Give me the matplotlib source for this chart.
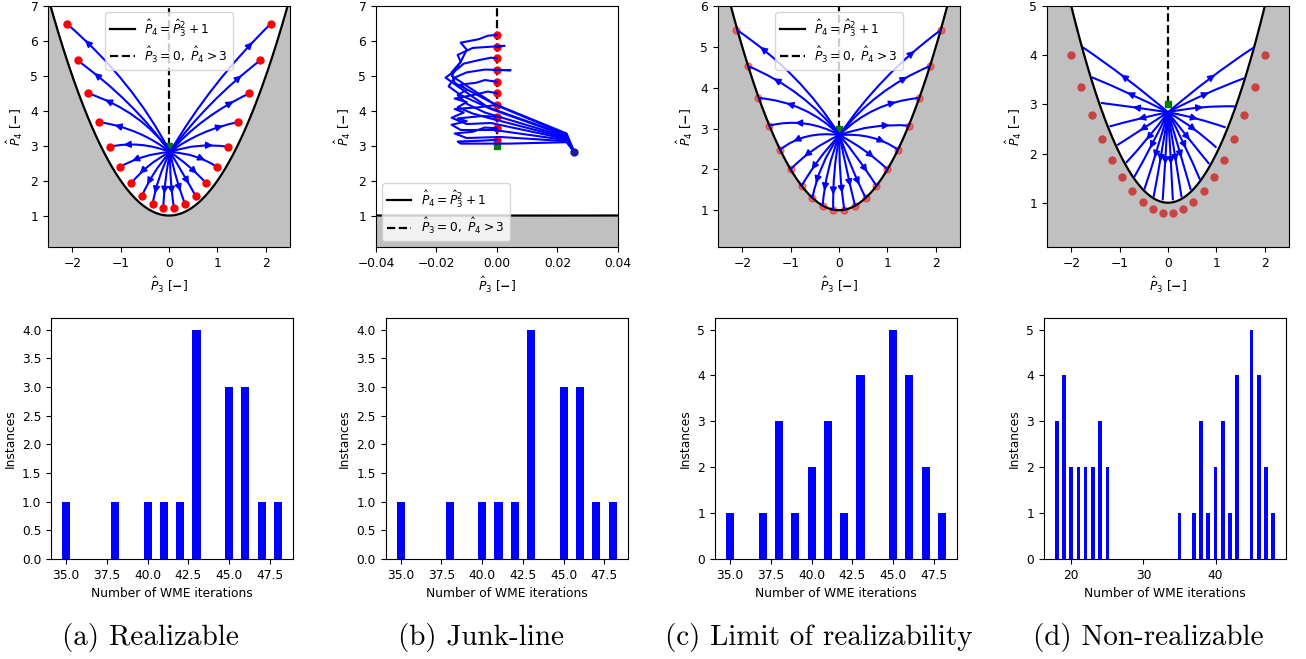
import numpy as np
import matplotlib
matplotlib.use("Agg")
import matplotlib.pyplot as plt
from matplotlib.path import Path
from matplotlib.patches import PathPatch
from matplotlib.ticker import MultipleLocator

# ---- top row: start points (red dots), arrow positions, convergence point ----
a_dot_x = [-2.11, -1.89, -1.67, -1.45, -1.23, -1.01, -0.78, -0.56, -0.34, -0.12,
           0.10, 0.33, 0.55, 0.77, 0.99, 1.21, 1.43, 1.66, 1.88, 2.10]
a_dot_y = [6.49, 5.44, 4.50, 3.68, 2.97, 2.39, 1.92, 1.56, 1.33, 1.22,
           1.22, 1.33, 1.56, 1.92, 2.39, 2.97, 3.68, 4.50, 5.44, 6.49]
a_arr_x = [-1.72, -1.53, -1.30, -1.10, -0.91, -0.74, -0.59, -0.44, -0.29, -0.10,
           0.06, 0.23, 0.40, 0.56, 0.72, 0.88, 1.09, 1.31, 1.48, 1.71]
a_arr_y = [6.00, 5.06, 4.30, 3.58, 3.03, 2.58, 2.22, 1.91, 1.66, 1.65,
           1.65, 1.72, 1.93, 2.22, 2.60, 3.01, 3.56, 4.25, 4.99, 5.94]
a_center = (0.02, 2.82)

c_dot_x = [-2.12, -1.88, -1.67, -1.45, -1.22, -1.00, -0.77, -0.55, -0.34, -0.12,
           0.11, 0.33, 0.55, 0.77, 1.00, 1.22, 1.44, 1.66, 1.88, 2.10]
c_dot_y = [5.42, 4.53, 3.75, 3.07, 2.48, 2.00, 1.60, 1.30, 1.11, 1.01,
           1.01, 1.11, 1.30, 1.60, 2.00, 2.48, 3.07, 3.75, 4.53, 5.41]
c_arr_x = [-1.61, -1.33, -1.06, -0.88, -0.92, -0.70, -0.55, -0.47, -0.30, -0.12,
           0.06, 0.23, 0.41, 0.57, 0.70, 0.92, 1.02, 1.15, 1.39, 1.54]
c_arr_y = [4.98, 4.21, 3.61, 3.14, 2.70, 2.33, 2.02, 1.69, 1.51, 1.41,
           1.45, 1.61, 1.65, 1.96, 2.31, 2.68, 3.08, 3.64, 4.25, 4.88]
c_center = (0.01, 2.84)

d_dot_x = [-2.01, -1.79, -1.58, -1.37, -1.15, -0.95, -0.74, -0.52, -0.32, -0.11,
           0.10, 0.31, 0.52, 0.74, 0.95, 1.15, 1.37, 1.58, 1.79, 2.00]
d_dot_y = [4.00, 3.35, 2.79, 2.29, 1.87, 1.52, 1.23, 1.02, 0.88, 0.80,
           0.80, 0.88, 1.02, 1.23, 1.52, 1.87, 2.29, 2.79, 3.35, 4.00]
d_end_x = [-1.76, -1.57, -1.39, -1.21, -1.05, -0.87, -0.70, -0.49, -0.30, -0.11,
           0.10, 0.28, 0.47, 0.66, 0.85, 1.00, 1.19, 1.38, 1.57, 1.76]
d_end_y = [4.16, 3.55, 3.03, 2.55, 2.17, 1.81, 1.52, 1.27, 1.11, 1.05,
           1.05, 1.11, 1.26, 1.47, 1.79, 2.12, 2.53, 2.96, 3.53, 4.15]
d_arr_x = [-0.95, -0.82, -0.70, -0.59, -0.56, -0.43, -0.36, -0.27, -0.16, -0.06,
           0.06, 0.16, 0.27, 0.36, 0.43, 0.56, 0.59, 0.70, 0.82, 0.95]
d_arr_y = [3.59, 3.23, 2.94, 2.71, 2.48, 2.30, 2.13, 1.94, 1.86, 1.81,
           1.81, 1.86, 1.94, 2.13, 2.30, 2.48, 2.71, 2.94, 3.23, 3.59]
d_center = (0.0, 2.84)

# junk-line trajectories (b): all start at the blue dot, end on the red dots
b_start = (0.0255, 2.82)
b_dot_y = [3.17, 3.50, 3.83, 4.17, 4.50, 4.83, 5.17, 5.50, 5.83, 6.17]
b_paths = [
    [(0.023, 3.10), (0.004, 3.06), (-0.012, 3.06), (-0.013, 3.12), (-0.006, 3.14), (0.0, 3.17)],
    [(0.023, 3.13), (0.001, 3.25), (-0.010, 3.22), (-0.014, 3.35), (-0.008, 3.40), (-0.004, 3.52), (0.0, 3.50)],
    [(0.023, 3.16), (-0.001, 3.45), (-0.012, 3.45), (-0.015, 3.60), (-0.010, 3.70), (-0.013, 3.78), (-0.005, 3.85), (0.0, 3.83)],
    [(0.023, 3.19), (-0.002, 3.65), (-0.010, 3.62), (-0.015, 3.80), (-0.011, 3.95), (-0.014, 4.05), (-0.006, 4.10), (0.0, 4.17)],
    [(0.023, 3.22), (-0.003, 3.80), (-0.008, 3.92), (-0.013, 4.10), (-0.010, 4.25), (-0.014, 4.35), (-0.008, 4.45), (-0.003, 4.55), (0.0, 4.50)],
    [(0.023, 3.25), (-0.004, 3.95), (-0.010, 4.20), (-0.013, 4.45), (-0.010, 4.60), (-0.012, 4.75), (-0.007, 4.80), (-0.004, 4.88), (0.0, 4.83)],
    [(0.023, 3.28), (-0.002, 4.05), (-0.012, 4.45), (-0.016, 4.70), (-0.014, 4.95), (-0.010, 5.10), (-0.004, 5.18), (0.0045, 5.16), (0.0, 5.17)],
    [(0.023, 3.30), (-0.003, 4.10), (-0.013, 4.70), (-0.017, 4.95), (-0.013, 5.20), (-0.011, 5.35), (-0.006, 5.45), (-0.002, 5.52), (0.0, 5.50)],
    [(0.023, 3.32), (0.000, 4.15), (-0.014, 4.80), (-0.015, 5.10), (-0.012, 5.40), (-0.013, 5.60), (-0.008, 5.80), (0.0025, 5.86), (0.0, 5.83)],
    [(0.023, 3.35), (-0.001, 4.20), (-0.015, 5.00), (-0.012, 5.40), (-0.010, 5.75), (-0.012, 5.95), (-0.006, 6.05), (-0.003, 6.15), (0.0, 6.17)],
]

# ---- bottom row: histograms ----
a_iters = [35, 38, 40, 41, 42, 43, 45, 46, 47, 48]
a_counts = [1, 1, 1, 1, 1, 4, 3, 3, 1, 1]
b_iters = [35, 38, 40, 41, 42, 43, 45, 46, 47, 48]
b_counts = [1, 1, 1, 1, 1, 4, 3, 3, 1, 1]
c_iters = [35, 37, 38, 39, 40, 41, 42, 43, 45, 46, 47, 48]
c_counts = [1, 1, 3, 1, 2, 3, 1, 4, 5, 4, 2, 1]
d_iters = [18, 19, 20, 21, 22, 23, 24, 25, 35, 37, 38, 39, 40, 41, 42, 43, 45, 46, 47, 48]
d_counts = [3, 4, 2, 2, 2, 2, 3, 2, 1, 1, 3, 1, 2, 3, 1, 4, 5, 4, 2, 1]

captions = ["(a) Realizable", "(b) Junk-line", "(c) Limit of realizability", "(d) Non-realizable"]

LAB_X = r'$\hat{P}_3$ [$\mathbf{-}$]'
LAB_Y = r'$\hat{P}_4$ [$\mathbf{-}$]'
LEG1 = r'$\hat{P}_4 = \hat{P}_3^2 + 1$'
LEG2 = r'$\hat{P}_3 = 0,\ \hat{P}_4 > 3$'


def realizability(ax, xlo, xhi, ytop):
    xs = np.linspace(xlo, xhi, 400)
    ax.fill_between(xs, 0, xs**2 + 1, color='silver', zorder=0)
    ax.plot(xs, xs**2 + 1, 'k-', lw=1.6, label=LEG1, zorder=2)
    ax.plot([0, 0], [3, ytop], 'k--', lw=1.6, label=LEG2, zorder=2)
    ax.set_xlim(xlo, xhi)
    ax.set_ylim(0.1, ytop)
    ax.set_xlabel(LAB_X)
    ax.set_ylabel(LAB_Y)


def curved_traj(ax, S, M, E):
    S, M, E = np.array(S), np.array(M), np.array(E)
    d1 = np.hypot(*(M - S))
    d2 = np.hypot(*(E - M))
    t = d1 / (d1 + d2)
    B = (M - (1 - t)**2 * S - t**2 * E) / (2 * t * (1 - t))
    path = Path([S, B, E], [Path.MOVETO, Path.CURVE3, Path.CURVE3])
    ax.add_patch(PathPatch(path, fill=False, edgecolor='blue', lw=1.5, zorder=3))
    tang = 2 * (1 - t) * (B - S) + 2 * t * (E - B)
    tang = tang / np.hypot(*tang) * 0.03
    ax.annotate('', xy=M + tang, xytext=M - tang,
                arrowprops=dict(arrowstyle='-|>', color='blue', lw=1.2,
                                mutation_scale=10, shrinkA=0, shrinkB=0), zorder=4)


plt.rcParams['font.size'] = 8.8
fig = plt.figure(figsize=(13.06, 6.59), dpi=100)

W = 0.1853
H = 0.3657
top_lefts = [0.0368, 0.2879, 0.5498, 0.8017]
bot_lefts = [0.0391, 0.2953, 0.5475, 0.7994]

# (a)
ax = fig.add_axes([top_lefts[0], 0.6252, W, H])
realizability(ax, -2.5, 2.5, 7)
for i in range(len(a_dot_x)):
    curved_traj(ax, a_center, (a_arr_x[i], a_arr_y[i]), (a_dot_x[i], a_dot_y[i]))
ax.plot(a_dot_x, a_dot_y, 'o', color='red', ms=5, zorder=5)
ax.plot(0, 3, 's', color='green', ms=5, zorder=2.5)
ax.legend(loc='upper center')

# (b)
ax = fig.add_axes([top_lefts[1], 0.6252, W, H])
realizability(ax, -0.04, 0.04, 7)
for i, pts in enumerate(b_paths):
    xs = [b_start[0]] + [p[0] for p in pts]
    ys = [b_start[1]] + [p[1] for p in pts]
    ax.plot(xs, ys, '-', color='blue', lw=1.5, zorder=3)
ax.plot(np.zeros(len(b_dot_y)), b_dot_y, 'o', color='red', ms=5, zorder=2.8)
ax.plot(0, 3, 's', color='green', ms=5, zorder=2.5)
ax.plot(b_start[0], b_start[1], 'o', color='#1a1a9e', ms=5, zorder=4)
ax.legend(loc='lower left')

# (c)
ax = fig.add_axes([top_lefts[2], 0.6252, W, H])
realizability(ax, -2.5, 2.5, 6)
for i in range(len(c_dot_x)):
    curved_traj(ax, c_center, (c_arr_x[i], c_arr_y[i]), (c_dot_x[i], c_dot_y[i]))
ax.plot(c_dot_x, c_dot_y, 'o', color='red', alpha=0.45, ms=5, zorder=1.5)
ax.plot(0, 3, 's', color='green', ms=5, zorder=2.5)
ax.legend(loc='upper center')

# (d)
ax = fig.add_axes([top_lefts[3], 0.6252, W, H])
realizability(ax, -2.5, 2.5, 5)
for i in range(len(d_end_x)):
    curved_traj(ax, d_center, (d_arr_x[i], d_arr_y[i]), (d_end_x[i], d_end_y[i]))
ax.plot(d_dot_x, d_dot_y, 'o', color='#c94343', ms=5, zorder=1.5)
ax.plot(0, 3, 's', color='green', ms=5, zorder=2.5)

# histograms
hist_data = [(a_iters, a_counts), (b_iters, b_counts), (c_iters, c_counts), (d_iters, d_counts)]
for k, (it, cnt) in enumerate(hist_data):
    ax = fig.add_axes([bot_lefts[k], 0.1517, W, H])
    ax.bar(it, cnt, width=0.5, color='blue')
    ax.set_xlabel('Number of WME iterations')
    ax.set_ylabel('Instances')
    if k < 3:
        ax.xaxis.set_major_locator(MultipleLocator(2.5))
    if k < 2:
        ax.yaxis.set_major_locator(MultipleLocator(0.5))

centers = [150, 481, 819, 1148]
for k, cap in enumerate(captions):
    fig.text(centers[k] / 1306, 0.033, cap, ha='center', va='center',
             fontsize=21, family='cmr10')

fig.savefig('out.png', dpi=100)
